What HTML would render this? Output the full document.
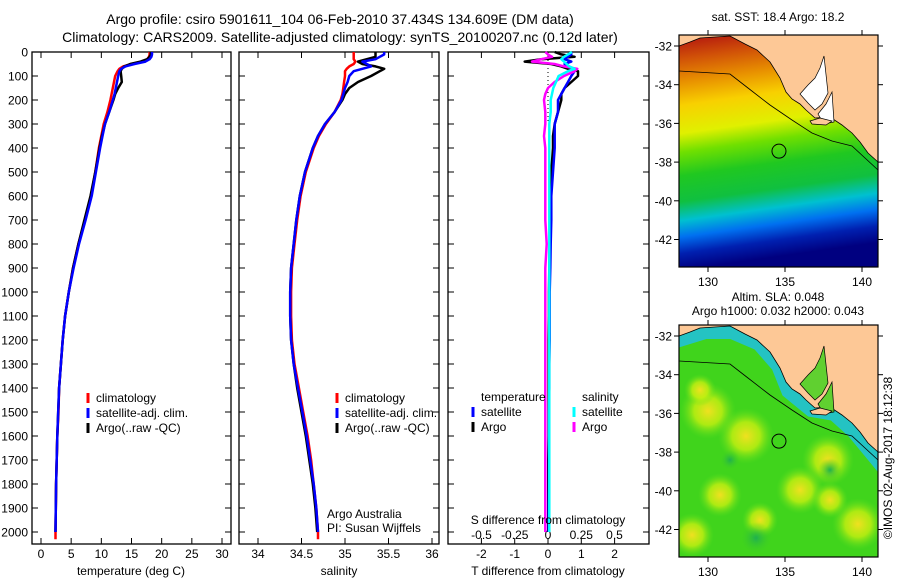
<!DOCTYPE html>
<html><head><meta charset="utf-8"><style>
html,body{margin:0;padding:0;background:#fff;}
svg{display:block;font-family:"Liberation Sans",sans-serif;}
text{fill:#000;}
</style></head><body>
<svg id="chart" width="900" height="580" viewBox="0 0 900 580" xmlns="http://www.w3.org/2000/svg">
<defs>
<linearGradient id="sstGrad" x1="0" y1="0" x2="0.12" y2="1">
<stop offset="0" stop-color="#b01010"/><stop offset="0.1" stop-color="#d05008"/>
<stop offset="0.2" stop-color="#e89000"/><stop offset="0.3" stop-color="#f8d000"/>
<stop offset="0.42" stop-color="#e0f000"/><stop offset="0.5" stop-color="#70e000"/>
<stop offset="0.6" stop-color="#20c820"/><stop offset="0.71" stop-color="#10c040"/>
<stop offset="0.79" stop-color="#00c0d0"/><stop offset="0.86" stop-color="#0070f0"/>
<stop offset="0.93" stop-color="#0020b0"/><stop offset="1" stop-color="#000080"/>
</linearGradient>
<radialGradient id="yb"><stop offset="0" stop-color="#f0e020"/><stop offset="0.5" stop-color="#c8f010" stop-opacity="0.8"/><stop offset="1" stop-color="#60e020" stop-opacity="0"/></radialGradient>
<radialGradient id="gb"><stop offset="0" stop-color="#20b050"/><stop offset="1" stop-color="#40d020" stop-opacity="0"/></radialGradient>
<clipPath id="m1c"><rect x="679" y="35" width="199" height="232"/></clipPath>
<clipPath id="m2c"><rect x="679" y="325" width="199" height="232"/></clipPath>
</defs>
<g id="titles" font-size="14" text-anchor="middle">
<text x="340" y="24">Argo profile: csiro 5901611_104 06-Feb-2010 37.434S 134.609E (DM data)</text>
<text x="340" y="42">Climatology: CARS2009. Satellite-adjusted climatology: synTS_20100207.nc (0.12d later)</text>
</g>
<g id="p1"></g>
<g id="p2"></g>
<g id="p3"></g>
<g id="maps"></g>
<text transform="translate(892,458) rotate(-90)" font-size="12" text-anchor="middle">©IMOS 02-Aug-2017 18:12:38</text>
</svg>
<script>
const depths=[0,10,20,30,40,50,60,70,80,100,125,150,175,200,250,300,350,400,500,600,700,800,900,1000,1100,1200,1300,1400,1500,1600,1700,1800,1900,2000,2030];
const tClim=[18.0,18.0,17.9,17.6,16.8,15.0,13.6,13.0,12.7,12.3,12.1,11.9,11.7,11.5,11.0,10.4,10.0,9.6,9.0,8.3,7.3,6.2,5.3,4.6,4.0,3.6,3.3,3.0,2.9,2.7,2.6,2.5,2.45,2.4,2.4];
const tSat=[18.4,18.4,18.3,18.0,17.3,15.5,14.0,13.3,13.0,12.8,12.6,12.4,12.2,11.9,11.3,10.6,10.2,9.8,9.1,8.4,7.4,6.3,5.4,4.6,4.0,3.6,3.3,3.0,2.85,2.7,2.6,2.5,2.45,2.4,null];
const tArgo=[18.2,18.2,18.0,17.6,16.5,14.8,13.8,13.4,13.2,13.3,13.4,12.8,12.3,12.0,11.3,10.6,10.1,9.7,9.0,8.2,7.2,6.2,5.3,4.6,4.0,3.6,3.3,3.0,2.85,2.7,2.6,2.5,2.45,2.4,null];
const sClim=[35.1,35.1,35.1,35.1,35.12,35.1,35.05,35.02,35.0,35.0,34.99,34.98,34.97,34.95,34.88,34.78,34.7,34.64,34.55,34.49,34.45,34.42,34.39,34.38,34.38,34.39,34.42,34.47,34.52,34.57,34.61,34.64,34.67,34.69,34.69];
const sSat=[35.45,35.45,35.4,35.35,35.2,35.25,35.3,35.2,35.1,35.05,35.03,35.0,34.98,34.96,34.88,34.77,34.69,34.63,34.54,34.48,34.44,34.41,34.38,34.37,34.37,34.38,34.41,34.46,34.51,34.56,34.6,34.64,34.67,34.69,null];
const sArgo=[35.35,35.35,35.35,35.25,35.15,35.2,35.35,35.45,35.4,35.3,35.15,35.05,35.0,34.97,34.88,34.77,34.69,34.63,34.54,34.48,34.44,34.41,34.38,34.37,34.37,34.38,34.41,34.45,34.5,34.55,34.59,34.63,34.66,34.68,null];
const dTSat=[0.7,0.7,0.6,0.5,0.7,0.5,0.6,0.8,0.8,0.7,0.6,0.5,0.4,0.3,0.3,0.2,0.2,0.2,0.15,0.1,0.1,0.08,0.07,0.05,0.05,0.05,0.04,0.04,0.03,0.03,0.03,0.03,0.02,0.02,null];
const dTArgo=[0.2,0.4,0.8,-0.2,-0.7,0.1,0.4,0.6,0.9,0.9,0.7,0.5,0.4,0.4,0.3,0.2,0.15,0.15,0.1,0.08,0.06,0.05,0.04,0.03,0.03,0.02,0.02,0.02,0.02,0.02,0.01,0.01,0.01,0.01,null];
const dSSat=[0.18,0.15,0.12,0.1,0.12,0.14,0.16,0.2,0.15,0.08,0.06,0.04,0.03,0.02,0.02,0.01,0.01,0.01,0.01,0.01,0.01,0.01,0.01,0.01,0.01,0.01,0.01,0.01,0.01,0.01,0.01,0.01,0.01,0.01,null];
const dSArgo=[-0.02,0.0,0.03,-0.05,-0.12,0.05,0.12,0.22,0.2,0.12,0.05,0.0,-0.02,-0.03,-0.02,-0.02,-0.03,-0.02,-0.02,-0.02,-0.02,-0.01,-0.02,-0.02,-0.02,-0.02,-0.02,-0.02,-0.02,-0.02,-0.02,-0.02,-0.02,-0.02,null];
const depthTicks=[0,100,200,300,400,500,600,700,800,900,1000,1100,1200,1300,1400,1500,1600,1700,1800,1900,2000];
const tempTicks=[0,5,10,15,20,25,30];
const salTicks=["34","34.5","35","35.5","36"];
const dTTicks=["-2","-1","0","1","2"];
const dSTicks=["-0.5","-0.25","0","0.25","0.5"];
const lonTicks=[130,135,140];
const latTicks=[-32,-34,-36,-38,-40,-42];

const NS="http://www.w3.org/2000/svg";
function mk(tag,attrs,parent,txt){const e=document.createElementNS(NS,tag);for(const k in attrs)e.setAttribute(k,attrs[k]);if(txt!==undefined)e.textContent=txt;parent.appendChild(e);return e;}
const yD=d=>52+d*0.24;
const TOP=52,BOT=544;

function frame(g,x0,x1,name){
  const r=mk('rect',{x:x0,y:TOP,width:x1-x0,height:BOT-TOP,fill:'none',stroke:'#000','stroke-width':1.3},g);
  
  
  depthTicks.forEach(d=>{
    mk('line',{x1:x0,x2:x0+6,y1:yD(d),y2:yD(d),stroke:'#000'},g);
    mk('line',{x1:x1,x2:x1-6,y1:yD(d),y2:yD(d),stroke:'#000'},g);
  });
}
function profile(g,vals,xf,color,w,name){
  let p='';vals.forEach((v,i)=>{if(v===null)return;p+=(p?'L':'M')+xf(v).toFixed(1)+','+yD(depths[i]).toFixed(1);});
  const e=mk('path',{d:p,fill:'none',stroke:color,'stroke-width':w,'stroke-linejoin':'round'},g);
  
  
}
function legend(g,x,y,items){
  items.forEach((it,i)=>{
    mk('line',{x1:x,x2:x,y1:y+i*15-9,y2:y+i*15+1,stroke:it[1],'stroke-width':3},g);
    const t=mk('text',{x:x+8,y:y+i*15,'font-size':12},g,it[0]);
    
    
  });
}

const g1=document.getElementById('p1');
const xT=v=>41+v*(181/30);
frame(g1,32,231,'temperature-panel');
depthTicks.forEach(d=>{const t=mk('text',{x:28,y:yD(d)+4.5,'font-size':12,'text-anchor':'end'},g1,String(d));});
tempTicks.forEach(v=>{mk('line',{x1:xT(v),x2:xT(v),y1:BOT,y2:BOT-6,stroke:'#000'},g1);mk('line',{x1:xT(v),x2:xT(v),y1:TOP,y2:TOP+6,stroke:'#000'},g1);
 const t=mk('text',{x:xT(v),y:558,'font-size':12,'text-anchor':'middle'},g1,String(v));});
profile(g1,tClim,xT,'#ff0000',2.5,'temperature-climatology-line');
profile(g1,tArgo,xT,'#000000',2.5,'temperature-argo-line');
profile(g1,tSat,xT,'#0000ff',2.5,'temperature-satellite-line');
legend(g1,88,402,[['climatology','#ff0000'],['satellite-adj. clim.','#0000ff'],['Argo(..raw -QC)','#000']]);
{const t=mk('text',{x:131,y:575,'font-size':12,'text-anchor':'middle'},g1,'temperature (deg C)');}

const g2=document.getElementById('p2');
const xS=v=>258+(v-34)*87;
frame(g2,239,439,'salinity-panel');
salTicks.forEach(s=>{const v=parseFloat(s);mk('line',{x1:xS(v),x2:xS(v),y1:BOT,y2:BOT-6,stroke:'#000'},g2);mk('line',{x1:xS(v),x2:xS(v),y1:TOP,y2:TOP+6,stroke:'#000'},g2);
 const t=mk('text',{x:xS(v),y:558,'font-size':12,'text-anchor':'middle'},g2,s);});
profile(g2,sClim,xS,'#ff0000',2.5,'salinity-climatology-line');
profile(g2,sArgo,xS,'#000000',2.5,'salinity-argo-line');
profile(g2,sSat,xS,'#0000ff',2.5,'salinity-satellite-line');
legend(g2,337,402,[['climatology','#ff0000'],['satellite-adj. clim.','#0000ff'],['Argo(..raw -QC)','#000']]);
{const t=mk('text',{x:327,y:518,'font-size':12},g2,'Argo Australia');
 const t2=mk('text',{x:327,y:532,'font-size':12},g2,'PI: Susan Wijffels');
 const t3=mk('text',{x:339,y:575,'font-size':12,'text-anchor':'middle'},g2,'salinity');}

const g3=document.getElementById('p3');
const xDT=v=>548+v*33.3;
const xDS=v=>548+v*133;
frame(g3,448,649,'difference-panel');
mk('line',{x1:548,x2:548,y1:TOP,y2:yD(300),stroke:'#000','stroke-dasharray':'1,3'},g3);
dTTicks.forEach(s=>{const v=parseFloat(s);mk('line',{x1:xDT(v),x2:xDT(v),y1:BOT,y2:BOT-6,stroke:'#000'},g3);mk('line',{x1:xDT(v),x2:xDT(v),y1:TOP,y2:TOP+6,stroke:'#000'},g3);
 const t=mk('text',{x:xDT(v),y:558,'font-size':12,'text-anchor':'middle'},g3,s);});
dSTicks.forEach(s=>{const v=parseFloat(s);const t=mk('text',{x:xDS(v),y:539,'font-size':12,'text-anchor':'middle'},g3,s);});
profile(g3,dTArgo,xDT,'#000000',2.5,'t-diff-argo-line');
profile(g3,dTSat,xDT,'#0000ff',2.5,'t-diff-satellite-line');
profile(g3,dSArgo,xDS,'#ff00ff',2.5,'s-diff-argo-line');
profile(g3,dSSat,xDS,'#00ffff',2.5,'s-diff-satellite-line');
{const t=mk('text',{x:481,y:401,'font-size':12},g3,'temperature');
 const t2=mk('text',{x:582,y:401,'font-size':12},g3,'salinity');}
legend(g3,473,416,[['satellite','#0000ff'],['Argo','#000']]);
legend(g3,574,416,[['satellite','#00ffff'],['Argo','#ff00ff']]);
{const t=mk('text',{x:548,y:524,'font-size':12,'text-anchor':'middle'},g3,'S difference from climatology');
 const t2=mk('text',{x:548,y:575,'font-size':12,'text-anchor':'middle'},g3,'T difference from climatology');}

const gm=document.getElementById('maps');
function map(y0,kind,titles){
  const g=mk('g',{},gm);
  
  
  const lx=v=>708+(v-130)*15.4;
  const ly=v=>y0+11+(-32-v)*19.35;
  const cg=mk('g',{'clip-path':'url(#'+(y0<100?'m1c':'m2c')+')'},g);
  const dy=y0-35;
  if(kind==='sst'){
    mk('rect',{x:679,y:y0,width:199,height:232,fill:'url(#sstGrad)'},cg);
  } else {
    mk('rect',{x:679,y:y0,width:199,height:232,fill:'#40d41c'},cg);
    [[708,121,28],[746,146,28],[828,170,26],[858,234,26],[692,245,22],[720,205,22],[800,200,24],[700,100,16],[760,230,18],[830,210,18]].forEach(b=>mk('ellipse',{cx:b[0],cy:b[1]+dy,rx:b[2],ry:b[2],fill:'url(#yb)'},cg));
    [[756,248,16],[830,180,12],[730,170,10]].forEach(b=>mk('ellipse',{cx:b[0],cy:b[1]+dy,rx:b[2],ry:b[2],fill:'url(#gb)'},cg));
    mk('path',{d:`M679,${dy+48} L705,${dy+40} L732,${dy+40} L760,${dy+52} L780,${dy+75} L790,${dy+100} L812,${dy+118} L835,${dy+122} L855,${dy+140} L878,${dy+168} L878,${dy+35} L679,${dy+35}Z`,fill:'none',stroke:'#20c0e0','stroke-width':18,opacity:0.85},cg);
  }
  const coast=`M679,${dy+46} L690,${dy+42} L700,${dy+38} L730,${dy+36} L745,${dy+44} L757,${dy+50} L770,${dy+62} L780,${dy+78} L786,${dy+92} L792,${dy+99} L800,${dy+104} L806,${dy+110} L815,${dy+118} L830,${dy+117} L842,${dy+125} L852,${dy+133} L860,${dy+142} L868,${dy+153} L878,${dy+162} L878,${dy+35} L679,${dy+35}Z`;
  mk('path',{d:coast,fill:'#fdc896',stroke:'#000','stroke-width':0.8},cg);
  const gulfFill=kind==='sst'?'#ffffff':'#60d030';
  mk('path',{d:`M800,${dy+94} L808,${dy+85} L815,${dy+78} L820,${dy+68} L824,${dy+56} L828,${dy+93} L822,${dy+104} L815,${dy+110} L808,${dy+103}Z`,fill:gulfFill,stroke:'#000','stroke-width':0.7},cg);
  mk('path',{d:`M818,${dy+114} L826,${dy+104} L832,${dy+92} L834,${dy+122} L824,${dy+124}Z`,fill:gulfFill,stroke:'#000','stroke-width':0.7},cg);
  mk('path',{d:`M810,${dy+121} L820,${dy+118} L832,${dy+121} L826,${dy+125} L812,${dy+124}Z`,fill:'#fdc896',stroke:'#000','stroke-width':0.7},cg);
  mk('path',{d:`M679,${dy+71} L730,${dy+74} L748,${dy+88} L770,${dy+105} L792,${dy+120} L812,${dy+133} L832,${dy+141} L852,${dy+146} L878,${dy+170}`,fill:'none',stroke:'#000','stroke-width':0.8},cg);
  const m=mk('circle',{cx:lx(134.609),cy:ly(-37.434),r:7,fill:'none',stroke:'#000','stroke-width':1},g);
  
  
  mk('rect',{x:679,y:y0,width:199,height:232,fill:'none',stroke:'#000','stroke-width':1.2},g);
  lonTicks.forEach(v=>{mk('line',{x1:lx(v),x2:lx(v),y1:y0,y2:y0-5,stroke:'#000'},g);mk('line',{x1:lx(v),x2:lx(v),y1:y0+232,y2:y0+237,stroke:'#000'},g);
    const t=mk('text',{x:lx(v),y:y0+251,'font-size':12,'text-anchor':'middle'},g,String(v));});
  latTicks.forEach(v=>{mk('line',{x1:679,x2:674,y1:ly(v),y2:ly(v),stroke:'#000'},g);mk('line',{x1:878,x2:883,y1:ly(v),y2:ly(v),stroke:'#000'},g);
    const t=mk('text',{x:672,y:ly(v)+4.5,'font-size':12,'text-anchor':'end'},g,String(v));});
  titles.forEach((s,i)=>{const t=mk('text',{x:778,y:y0-24+i*14+(titles.length===1?10:0),'font-size':12,'text-anchor':'middle'},g,s);});
}
map(35,'sst',['sat. SST: 18.4 Argo: 18.2']);
map(325,'sla',['Altim. SLA: 0.048','Argo h1000: 0.032 h2000: 0.043']);
</script>
</body></html>
